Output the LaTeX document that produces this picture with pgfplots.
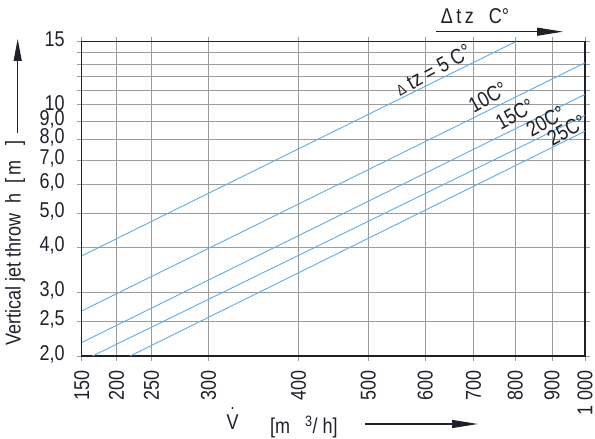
\documentclass[border=0pt]{standalone}
\usepackage{fontspec}
\setmainfont{Liberation Sans}[FakeStretch=0.84]
\usepackage{pgfplots}
\pgfplotsset{compat=1.18}
\usetikzlibrary{arrows.meta}
\definecolor{lineblue}{RGB}{95,172,228}
\definecolor{gridgray}{RGB}{155,155,155}
\definecolor{txt}{RGB}{30,32,42}
\newcommand{\bigf}{\fontsize{21.5}{24}\selectfont}
\begin{document}
\begin{tikzpicture}[x=1bp,y=1bp]
\useasboundingbox (-81.7,-83) rectangle (513.3,356);
\begin{axis}[
  at={(0,0)}, anchor=south west,
  scale only axis, width=503.3bp, height=314.3bp,
  xmode=log, ymode=log,
  xmin=200, xmax=1000, ymin=2, ymax=15,
  xtick={200,223.6,250,300,400,500,600,700,800,900,1000},
  xticklabels={150,200,250,300,400,500,600,700,800,900,1~000},
  ytick={2,2.5,3,4,5,6,7,8,9,10,11,12,13,14,15},
  yticklabels={{2,0},{2,5},{3,0},{4,0},{5,0},{6,0},{7,0},{8,0},{9,0},{10},{},{},{},{},{15}},
  minor xtick={}, minor ytick={},
  grid=major, major grid style={gridgray, line width=0.9bp},
  axis line style={txt, line width=1.4bp},
  tick align=outside, major tick length=5bp,
  tick style={gridgray, line width=0.9bp},
  xticklabel shift=9bp, yticklabel shift=12bp,
  x tick label style={rotate=90, anchor=east, font=\bigf, inner sep=0pt, text=txt},
  y tick label style={anchor=east, font=\bigf, inner sep=0pt, text=txt, yshift=2bp},
  clip=false,
]
\addplot[lineblue, line width=0.9bp] coordinates {(200,3.80) (801,15)};
\addplot[lineblue, line width=0.9bp] coordinates {(200,2.67) (1000,13.1)};
\addplot[lineblue, line width=0.9bp] coordinates {(200,2.18) (1000,10.7)};
\addplot[lineblue, line width=0.9bp] coordinates {(207,2.0) (1000,9.35)};
\addplot[lineblue, line width=0.9bp] coordinates {(233.5,2.0) (1000,8.45)};
\node[rotate=29, text=txt, font=\bigf, inner sep=0pt] at (axis cs:615,12.5) {{\fontsize{15}{16}\selectfont Δ} tz = 5 C°};
\node[rotate=29, text=txt, font=\bigf, inner sep=0pt] at (axis cs:733,10.5) {10C°};
\node[rotate=29, text=txt, font=\bigf, inner sep=0pt] at (axis cs:799,9.44) {15C°};
\node[rotate=29, text=txt, font=\bigf, inner sep=0pt] at (axis cs:882,9.03) {20C°};
\node[rotate=29, text=txt, font=\bigf, inner sep=0pt] at (axis cs:943,8.52) {25C°};
\end{axis}
% y label and arrow
\node[rotate=90, anchor=east, text=txt, font=\bigf, inner sep=0pt] at (-66.7,216) {Vertical jet throw\ \ h\ \ [\,m\ \ \ ]};
\draw[txt, line width=1.2bp, -{Triangle[length=22bp,width=8bp]}] (-64,223) -- (-64,317);
% top label and arrow
\node[text=txt, font=\bigf, inner sep=0pt] at (393.3,339.5) {Δ\,t\,z\ \ \ C°};
\draw[txt, line width=1.2bp, -{Triangle[length=26bp,width=8bp]}] (354.3,324.3) -- (481.3,324.3);
% x label and arrow
\node[text=txt, font=\bigf, inner sep=0pt] at (150.8,-66.5) {V};
\fill[txt] (150.8,-52) circle (1.2bp);
\node[text=txt, font=\bigf, inner sep=0pt, anchor=west] at (188.3,-71) {[m\ \ \ \textsuperscript{3}/\ h]};
\draw[txt, line width=1.2bp, -{Triangle[length=26bp,width=8bp]}] (283.3,-68) -- (396.3,-68);
\end{tikzpicture}
\end{document}
